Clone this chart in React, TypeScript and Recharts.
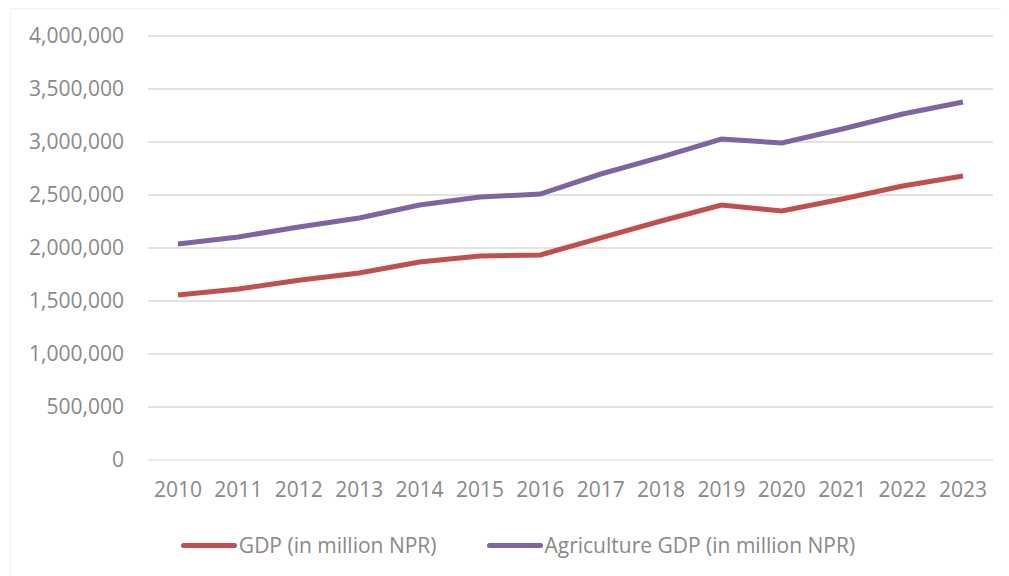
import React from 'react';
import { LineChart, Line, XAxis, YAxis, CartesianGrid, Legend } from 'recharts';

const years = ['2010', '2011', '2012', '2013', '2014', '2015', '2016', '2017', '2018', '2019', '2020', '2021', '2022', '2023'];
const gdp = [1557000, 1613000, 1695000, 1765000, 1868000, 1925000, 1934000, 2095000, 2255000, 2406000, 2349000, 2462000, 2585000, 2679000];
const agriGdp = [2038000, 2104000, 2198000, 2283000, 2406000, 2481000, 2509000, 2698000, 2858000, 3028000, 2991000, 3123000, 3264000, 3377000];
const yTicks = [0, 500000, 1000000, 1500000, 2000000, 2500000, 3000000, 3500000, 4000000];

const RED = '#C0504D';
const PURPLE = '#8064A2';
const FONT = '"Open Sans", sans-serif';
const TICK = '#898989';

const data = years.map((year, i) => ({ year, gdp: gdp[i], agri: agriGdp[i] }));

const legendItems = [
  { label: 'GDP (in million NPR)', color: RED },
  { label: 'Agriculture GDP (in million NPR)', color: PURPLE },
];

function ChartLegend() {
  return (
    <div style={{ display: 'flex', justifyContent: 'center', gap: 50, paddingTop: 21, paddingLeft: 32, fontFamily: FONT, fontSize: 21, color: TICK }}>
      {legendItems.map((it) => (
        <div key={it.label} style={{ display: 'flex', alignItems: 'center' }}>
          <span style={{ display: 'inline-block', width: 56, height: 5, borderRadius: 3, background: it.color, marginRight: 2 }} />
          <span>{it.label}</span>
        </div>
      ))}
    </div>
  );
}

export default function App() {
  return (
    <div style={{ width: 1001, height: 568, borderTop: '1px solid #f2f2f2', borderLeft: '1px solid #f2f2f2', boxSizing: 'border-box', marginLeft: 2 }}>
      <LineChart width={999} height={567} data={data} margin={{ top: 27, right: 17, left: 0, bottom: 0 }}>
        <CartesianGrid vertical={false} stroke="#d9d9d9" strokeWidth={1.5} />
        <XAxis
          dataKey="year"
          padding={{ left: 30, right: 30 }}
          tickLine={false}
          tickMargin={16}
          axisLine={{ stroke: '#eeeeee', strokeWidth: 1.5 }}
          tick={{ fill: TICK, fontFamily: FONT, fontSize: 21 }}
          interval={0}
          height={50}
        />
        <YAxis
          domain={[0, 4000000]}
          ticks={yTicks}
          width={137}
          axisLine={false}
          tickLine={false}
          tickMargin={18}
          tick={{ fill: TICK, fontFamily: FONT, fontSize: 21 }}
          tickFormatter={(v: number) => v.toLocaleString('en-US')}
        />
        <Legend verticalAlign="bottom" height={66} content={() => <ChartLegend />} />
        <Line type="linear" dataKey="gdp" stroke={RED} strokeWidth={5} dot={false} isAnimationActive={false} />
        <Line type="linear" dataKey="agri" stroke={PURPLE} strokeWidth={5} dot={false} isAnimationActive={false} />
      </LineChart>
    </div>
  );
}
